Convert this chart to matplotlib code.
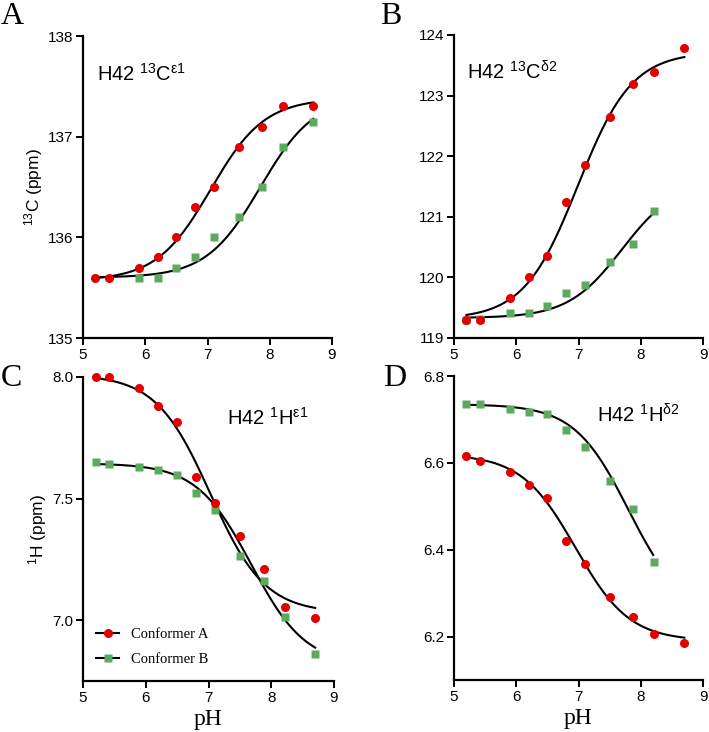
import numpy as np
import matplotlib
matplotlib.use("Agg")
import matplotlib.pyplot as plt
from matplotlib.lines import Line2D

# ---------------- data ----------------
ph_full = [5.2, 5.42, 5.9, 6.2, 6.5, 6.8, 7.1, 7.5, 7.88, 8.22, 8.7]
ph_b_short = [5.2, 5.42, 5.9, 6.2, 6.5, 6.8, 7.1, 7.5, 7.88, 8.22]
ph_a_green = [5.9, 6.2, 6.5, 6.8, 7.1, 7.5, 7.88, 8.22, 8.7]

# Panel A: 13C epsilon1
a_confA = [135.6, 135.6, 135.7, 135.8, 136.0, 136.3, 136.5, 136.9, 137.1, 137.3, 137.3]
a_confB = [135.6, 135.6, 135.7, 135.8, 136.0, 136.2, 136.5, 136.9, 137.15]
# Panel B: 13C delta2
b_confA = [119.3, 119.3, 119.66, 120.0, 120.35, 121.25, 121.85, 122.64, 123.19, 123.39, 123.79]
b_confB = [119.3, 119.31, 119.41, 119.41, 119.53, 119.74, 119.88, 120.25, 120.55, 121.10]
# Panel C: 1H epsilon1
c_confA = [8.0, 8.0, 7.956, 7.88, 7.815, 7.588, 7.48, 7.346, 7.21, 7.056, 7.01]
c_confB = [7.652, 7.644, 7.63, 7.617, 7.596, 7.525, 7.453, 7.266, 7.16, 7.012, 6.863]
# Panel D: 1H delta2
d_confA = [6.615, 6.605, 6.58, 6.548, 6.519, 6.421, 6.367, 6.292, 6.245, 6.205, 6.185]
d_confB = [6.735, 6.735, 6.725, 6.718, 6.712, 6.675, 6.637, 6.558, 6.493, 6.372]

# Henderson-Hasselbalch fit parameters: (acid shift, base shift, pKa, pH_end)
fit_a_A = (135.57, 137.38, 7.05, 8.7)
fit_a_B = (135.6, 137.4, 7.85, 8.7)
fit_b_A = (119.31, 123.72, 6.99, 8.7)
fit_b_B = (119.33, 121.6, 7.7, 8.2)
fit_c_A = (8.01, 7.03, 7.03, 8.7)
fit_c_B = (7.645, 6.815, 7.68, 8.7)
fit_d_A = (6.62, 6.19, 6.95, 8.7)
fit_d_B = (6.735, 6.25, 7.8, 8.2)

x_ticks = [5, 6, 7, 8, 9]

RED = "#e50000"
GREEN = "#5cab5c"

SANS = ["Liberation Sans", "DejaVu Sans"]
SERIF = ["Liberation Serif", "DejaVu Serif"]
plt.rcParams["font.family"] = SANS
plt.rcParams["mathtext.fontset"] = "custom"
plt.rcParams["mathtext.rm"] = "Liberation Sans"
plt.rcParams["mathtext.it"] = "Liberation Sans:italic"
plt.rcParams["mathtext.default"] = "regular"


def hh_curve(params, start=5.2):
    lo, hi, pka, end = params
    x = np.linspace(start, end, 300)
    return x, lo + (hi - lo) / (1.0 + 10 ** (pka - x))


W, H = 709, 732
fig = plt.figure(figsize=(W / 100, H / 100), dpi=100)


def make_ax(l, t, r, b):
    return fig.add_axes([l / W, 1 - b / H, (r - l) / W, (b - t) / H])


axA = make_ax(83, 36, 332, 338)
axB = make_ax(454, 35, 703, 338)
axC = make_ax(83, 377, 334, 681)
axD = make_ax(454, 376, 703, 680)


def style(ax, ylim, yticks, yfmt):
    ax.set_xlim(5, 9)
    ax.set_ylim(*ylim)
    ax.set_xticks(x_ticks)
    ax.set_yticks(yticks)
    ax.set_yticklabels([yfmt.format(v) for v in yticks])
    for s in ["top", "right"]:
        ax.spines[s].set_visible(False)
    for s in ["left", "bottom"]:
        ax.spines[s].set_linewidth(1.6)
    ax.tick_params(direction="out", length=5, width=1.4, labelsize=11, pad=2)
    for lab in ax.get_xticklabels() + ax.get_yticklabels():
        lab.set_fontfamily(SANS)


def plot_panel(ax, xa, ya, xb, yb, fa, fb):
    x, y = hh_curve(fa)
    ax.plot(x, y, color="black", lw=1.5, zorder=2)
    x, y = hh_curve(fb)
    ax.plot(x, y, color="black", lw=1.5, zorder=2)
    ax.plot(xb, yb, ls="none", marker="s", ms=6, color=GREEN, mec="none", zorder=3, clip_on=False)
    ax.plot(xa, ya, ls="none", marker="o", ms=6.5, color=RED, mec="none", zorder=4, clip_on=False)


plot_panel(axA, ph_full, a_confA, ph_a_green, a_confB, fit_a_A, fit_a_B)
style(axA, (135, 138), [135, 136, 137, 138], "{:.0f}")
plot_panel(axB, ph_full, b_confA, ph_b_short, b_confB, fit_b_A, fit_b_B)
style(axB, (119, 124), [119, 120, 121, 122, 123, 124], "{:.0f}")
plot_panel(axC, ph_full, c_confA, ph_full, c_confB, fit_c_A, fit_c_B)
style(axC, (6.75, 8.0), [7.0, 7.5, 8.0], "{:.1f}")
plot_panel(axD, ph_full, d_confA, ph_b_short, d_confB, fit_d_A, fit_d_B)
style(axD, (6.1, 6.8), [6.2, 6.4, 6.6, 6.8], "{:.1f}")

axA.set_ylabel(r"$^{13}$C (ppm)", fontsize=12.5, labelpad=2)
axC.set_ylabel(r"$^{1}$H (ppm)", fontsize=12.5, labelpad=2)

for ax in (axC, axD):
    ax.set_xlabel("pH", fontsize=17, family=SERIF, labelpad=3)

fs_ann = 14.5
axA.text(0.055, 0.875, r"H42 $^{13}$C$^{\epsilon1}$", transform=axA.transAxes, fontsize=fs_ann, va="center")
axB.text(0.052, 0.878, r"H42 $^{13}$C$^{\delta2}$", transform=axB.transAxes, fontsize=fs_ann, va="center")
axC.text(0.574, 0.865, r"H42 $^{1}$H$^{\epsilon1}$", transform=axC.transAxes, fontsize=fs_ann, va="center")
axD.text(0.574, 0.872, r"H42 $^{1}$H$^{\delta2}$", transform=axD.transAxes, fontsize=fs_ann, va="center")

for lbl, (px, py) in zip("ABCD", [(1, 24), (380, 24), (1, 386), (383, 386)]):
    fig.text(px / W, 1 - py / H, lbl, fontsize=23, family=SERIF, ha="left", va="baseline")

handles = [
    Line2D([], [], color="black", lw=1.5, marker="o", ms=6.5, mfc=RED, mec="none"),
    Line2D([], [], color="black", lw=1.5, marker="s", ms=6, mfc=GREEN, mec="none"),
]
leg = axC.legend(handles, ["Conformer A", "Conformer B"], loc="lower left",
                 bbox_to_anchor=(0.0, 0.005), frameon=False, handlelength=1.6,
                 handletextpad=0.8, labelspacing=0.85, prop={"family": SERIF, "size": 10.5})

fig.savefig("out.png", dpi=100)
